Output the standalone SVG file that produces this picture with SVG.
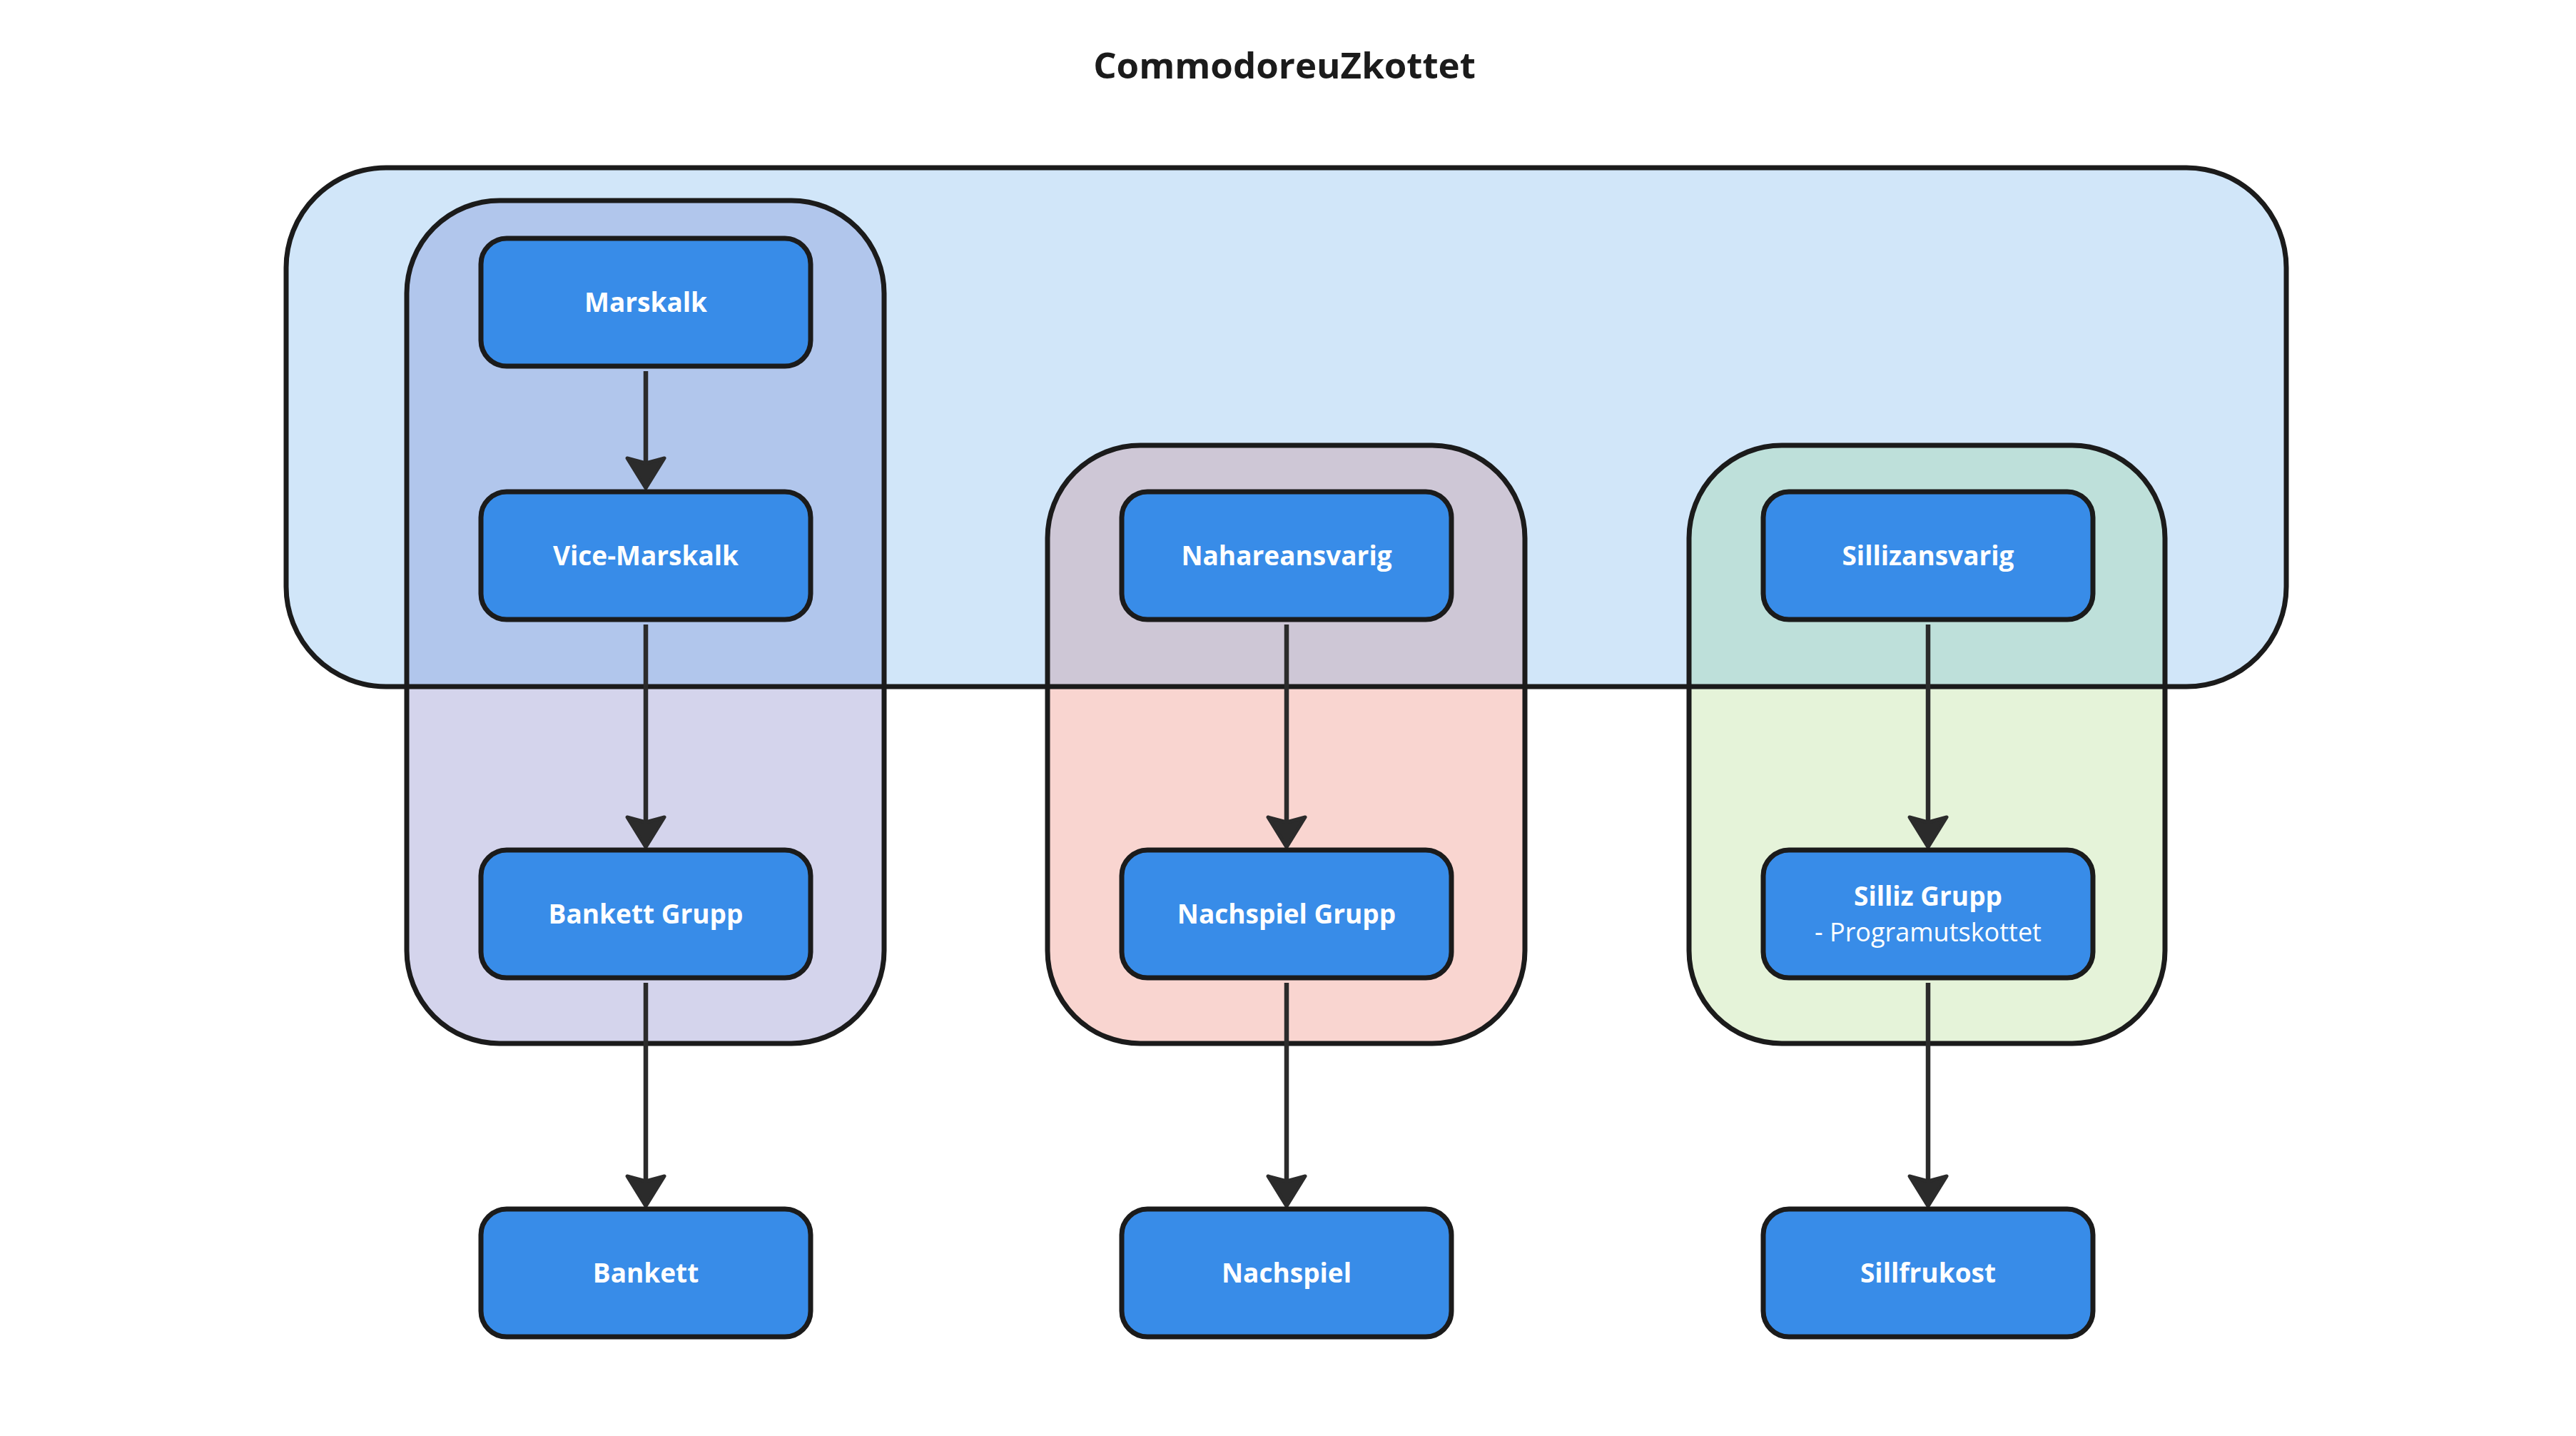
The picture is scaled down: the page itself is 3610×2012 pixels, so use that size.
<svg xmlns="http://www.w3.org/2000/svg" width="3610" height="2012" viewBox="0 0 3610 2012">
<style>
.bg{fill:#FFFFFF}
.title{font-family:"Open Sans","Liberation Sans",sans-serif;font-weight:700;font-size:51px;fill:#1B1B1B;text-anchor:middle}
.node rect{fill:#388CE8;stroke:#1B1B1B;stroke-width:7}
.lbl{font-family:"Open Sans","Liberation Sans",sans-serif;font-weight:700;font-size:37px;fill:#FFFFFF;text-anchor:middle}
.sub{font-family:"Open Sans","Liberation Sans",sans-serif;font-weight:400;font-size:36px;fill:#FFFFFF;text-anchor:middle}
.gstroke{fill:none;stroke:#1B1B1B;stroke-width:7}
.conn line{stroke:#2B2B2B;stroke-width:6.5;marker-end:url(#arrow)}
</style>
<defs>
<marker id="arrow" markerUnits="userSpaceOnUse" viewBox="-14 -32 56 64" markerWidth="56" markerHeight="64" refX="0" refY="0" orient="auto" overflow="visible">
<path d="M35,0 L-7,-26 L0,0 L-7,26 Z" fill="#2B2B2B" stroke="#2B2B2B" stroke-width="5" stroke-linejoin="round"/>
</marker>
<clipPath id="outerClip"><rect x="401" y="235" width="2803" height="727" rx="140"/></clipPath>
</defs>
<rect class="bg" x="0" y="0" width="3610" height="2012"/>
<text class="title" x="1800" y="110">CommodoreuZkottet</text>

<g id="container-outer">
<rect x="401" y="235" width="2803" height="727" rx="140" fill="#D1E6F9"/>
</g>

<g id="group-bankett">
<rect x="570" y="281" width="669" height="1181" rx="130" fill="#D4D4EC"/>
<rect x="570" y="281" width="669" height="1181" rx="130" fill="#B1C6EC" clip-path="url(#outerClip)"/>
<rect class="gstroke" x="570" y="281" width="669" height="1181" rx="130"/>
</g>
<g id="group-nachspiel">
<rect x="1468" y="624" width="669" height="838" rx="130" fill="#F9D5D0"/>
<rect x="1468" y="624" width="669" height="838" rx="130" fill="#CEC7D6" clip-path="url(#outerClip)"/>
<rect class="gstroke" x="1468" y="624" width="669" height="838" rx="130"/>
</g>
<g id="group-silliz">
<rect x="2367" y="624" width="667" height="838" rx="130" fill="#E5F3D9"/>
<rect x="2367" y="624" width="667" height="838" rx="130" fill="#BEE0DA" clip-path="url(#outerClip)"/>
<rect class="gstroke" x="2367" y="624" width="667" height="838" rx="130"/>
</g>
<g id="container-outer-border">
<rect class="gstroke" x="401" y="235" width="2803" height="727" rx="140"/>
</g>

<g id="connectors" class="conn">
<line x1="905" y1="520" x2="905" y2="649"/>
<line x1="905" y1="875" x2="905" y2="1152"/>
<line x1="905" y1="1377" x2="905" y2="1655"/>
<line x1="1803" y1="875" x2="1803" y2="1152"/>
<line x1="1803" y1="1377" x2="1803" y2="1655"/>
<line x1="2702" y1="875" x2="2702" y2="1152"/>
<line x1="2702" y1="1377" x2="2702" y2="1655"/>
</g>

<g id="node-marskalk" class="node"><rect x="674" y="334" width="462" height="179" rx="36"/><text class="lbl" x="905" y="437">Marskalk</text></g>
<g id="node-vice-marskalk" class="node"><rect x="674" y="689" width="462" height="179" rx="36"/><text class="lbl" x="905" y="792">Vice-Marskalk</text></g>
<g id="node-bankett-grupp" class="node"><rect x="674" y="1191" width="462" height="179" rx="36"/><text class="lbl" x="905" y="1294">Bankett Grupp</text></g>
<g id="node-bankett" class="node"><rect x="674" y="1694" width="462" height="179" rx="36"/><text class="lbl" x="905" y="1797">Bankett</text></g>

<g id="node-nahareansvarig" class="node"><rect x="1572" y="689" width="462" height="179" rx="36"/><text class="lbl" x="1803" y="792">Nahareansvarig</text></g>
<g id="node-nachspiel-grupp" class="node"><rect x="1572" y="1191" width="462" height="179" rx="36"/><text class="lbl" x="1803" y="1294">Nachspiel Grupp</text></g>
<g id="node-nachspiel" class="node"><rect x="1572" y="1694" width="462" height="179" rx="36"/><text class="lbl" x="1803" y="1797">Nachspiel</text></g>

<g id="node-sillizansvarig" class="node"><rect x="2471" y="689" width="462" height="179" rx="36"/><text class="lbl" x="2702" y="792">Sillizansvarig</text></g>
<g id="node-silliz-grupp" class="node"><rect x="2471" y="1191" width="462" height="179" rx="36"/><text class="lbl" x="2702" y="1269">Silliz Grupp</text><text class="sub" x="2702" y="1319">- Programutskottet</text></g>
<g id="node-sillfrukost" class="node"><rect x="2471" y="1694" width="462" height="179" rx="36"/><text class="lbl" x="2702" y="1797">Sillfrukost</text></g>
</svg>
